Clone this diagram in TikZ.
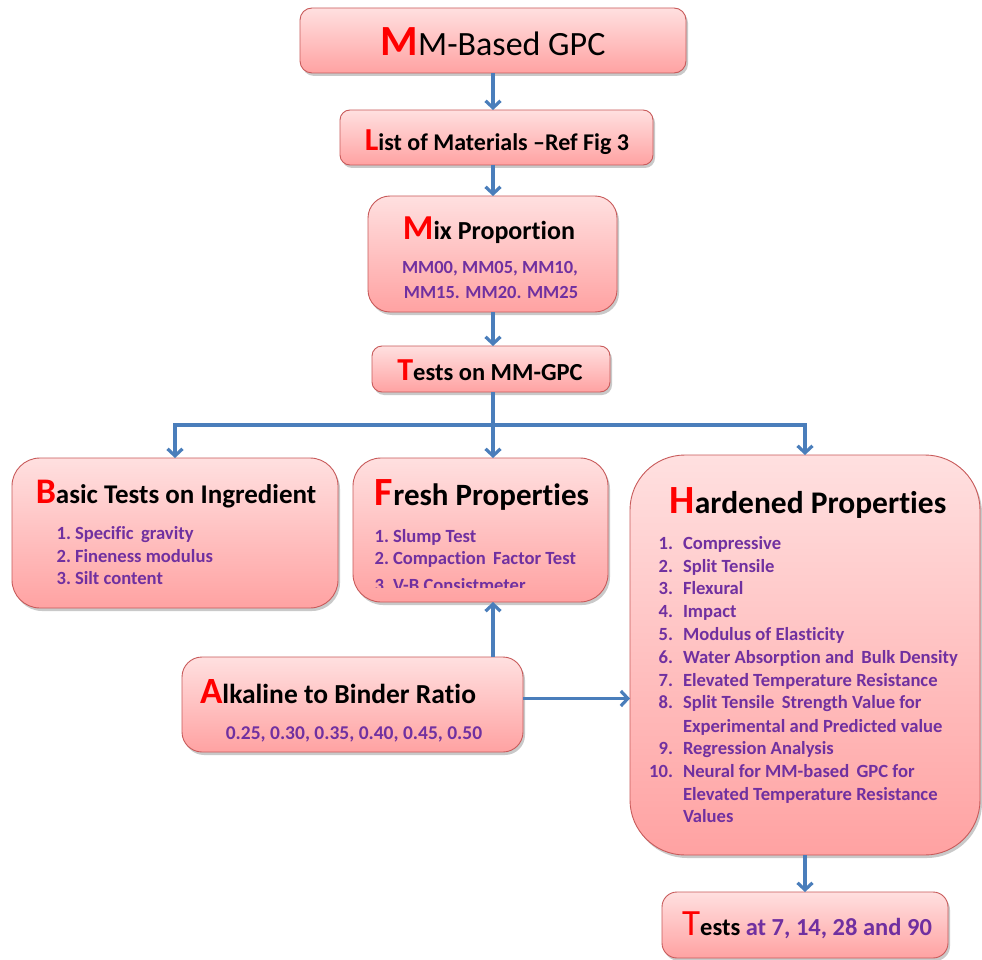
\documentclass[tikz,border=0pt]{standalone}
\usepackage{fontspec}
\setmainfont[RawFeature={-liga;-clig;-dlig;-calt}]{Carlito}
\usetikzlibrary{arrows.meta,shadows}
\definecolor{arrowblue}{RGB}{74,126,187}
\definecolor{boxborder}{RGB}{200,90,90}
\definecolor{boxtop}{RGB}{255,224,224}
\definecolor{boxbot}{RGB}{255,162,162}
\definecolor{itemcol}{RGB}{112,48,160}
\definecolor{redletter}{RGB}{255,0,0}
\newcommand{\fs}[1]{\fontsize{#1}{#1}\selectfont}
\newcommand{\rl}[2]{{\color{redletter}\fs{#1}\bfseries #2}}
\begin{document}
\begin{tikzpicture}[x=1pt,y=-1pt,
  box/.style={draw=boxborder, line width=0.9pt, top color=boxtop, bottom color=boxbot,
    inner sep=0pt, outer sep=0pt,
    drop shadow={opacity=0.35, shadow xshift=2pt, shadow yshift=-3pt, fill=black!60}},
  arr/.style={draw=arrowblue, line width=3.2pt, -{Straight Barb[length=7pt,width=15pt]}},
  ln/.style={draw=arrowblue, line width=3.2pt},
  txt/.style={inner sep=0pt, outer sep=0pt, anchor=base},
  item/.style={inner sep=0pt, outer sep=0pt, anchor=base west, text=itemcol, font=\fs{18.6}\bfseries},
  num/.style={inner sep=0pt, outer sep=0pt, anchor=base east, text=itemcol, font=\fs{18.6}\bfseries}]
\useasboundingbox (0,0) rectangle (982,960);
\fill[white] (0,0) rectangle (982,960);

% boxes
\node[box, rounded corners=12pt, minimum width=386pt, minimum height=65pt] (mm) at (493,40.5) {};
\node[box, rounded corners=10pt, minimum width=313pt, minimum height=55pt] (list) at (496.5,137.5) {};
\node[box, rounded corners=22pt, minimum width=249pt, minimum height=116pt] (mix) at (492.5,254) {};
\node[box, rounded corners=10pt, minimum width=238pt, minimum height=46pt] (tests) at (491,369) {};
\node[box, rounded corners=28pt, minimum width=326pt, minimum height=150pt] (basic) at (175,533) {};
\node[box, rounded corners=28pt, minimum width=255pt, minimum height=144pt] (fresh) at (480.5,530) {};
\node[box, rounded corners=55pt, minimum width=350pt, minimum height=400pt] (hard) at (805,655) {};
\node[box, rounded corners=20pt, minimum width=341pt, minimum height=95pt] (alk) at (352.5,704.5) {};
\node[box, rounded corners=15pt, minimum width=286pt, minimum height=66pt] (tat) at (805,925) {};

% texts
\node[txt] (t1) at (493,56) {\rl{43}{M}\fs{34}M-Based GPC};
\node[txt] (t2) at (497,151) {\rl{32}{L}\fs{24}\bfseries ist of Materials –Ref Fig 3};
\node[txt] (t3) at (489,239) {\rl{35}{M}\fs{26}\bfseries ix Propor\kern0pt tion};
\node[txt, text=itemcol, font=\fs{18.5}\bfseries] (t3a) at (490,273) {MM00, MM05, MM10,};
\node[txt, text=itemcol, font=\fs{18.5}\bfseries] (t3b) at (491,298) {MM15. MM20. MM25};
\node[txt] (t4) at (490,380) {\rl{32}{T}\fs{24.5}\bfseries ests on MM-GPC};

\node[txt] (t5) at (176,503) {\rl{36}{B}\fs{27}\bfseries asic Tests on Ingredient};
\node[num] (b1n) at (71,539) {1.};\node[item] (b1) at (75,539) {Specific\, gravity};
\node[num] (b2n) at (71,562) {2.};\node[item] (b2) at (75,562) {Fineness modulus};
\node[num] (b3n) at (71,584) {3.};\node[item] (b3) at (75,584) {Silt content};

\node[txt] (t6) at (482,505) {\rl{40}{F}\fs{31}\bfseries resh Proper\kern0pt ties};
\node[num] (f1n) at (389,542) {1.};\node[item] (f1) at (393,542) {Slump Test};
\node[num] (f2n) at (389,564) {2.};\node[item] (f2) at (393,564) {Compac\kern0pt tion\, Factor Test};
\begin{scope}
\clip (353,570) rectangle (608,587);
\node[num] (f3n) at (389,591) {3.};\node[item] (f3) at (393,591) {V-B Consistmeter};
\end{scope}

\node[txt] (t7) at (808,513) {\rl{40}{H}\fs{31.5}\bfseries ardened Proper\kern0pt ties};
\node[num] (h1n) at (673,549) {1.};\node[item] (h1) at (683,549) {Compressive};
\node[num] (h2n) at (673,572) {2.};\node[item] (h2) at (683,572) {Split Tensile};
\node[num] (h3n) at (673,594) {3.};\node[item] (h3) at (683,594) {Flexural};
\node[num] (h4n) at (673,617) {4.};\node[item] (h4) at (683,617) {Impact};
\node[num] (h5n) at (673,640) {5.};\node[item] (h5) at (683,640) {Modulus of Elas\kern0pt ticity};
\node[num] (h6n) at (673,663) {6.};\node[item] (h6) at (683,663) {Water Absorp\kern0pt tion and\, Bulk Density};
\node[num] (h7n) at (673,686) {7.};\node[item] (h7) at (683,686) {Elevated Temperature Resistance};
\node[num] (h8n) at (673,708) {8.};\node[item] (h8) at (683,708) {Split Tensile\, Strength Value for};
\node[item] (h8b) at (683,732) {Experimental and Predicted value};
\node[num] (h9n) at (673,754) {9.};\node[item] (h9) at (683,754) {Regression Analysis};
\node[num] (h10n) at (673,777) {10.};\node[item] (h10) at (683,777) {Neural for MM-based\, GPC for};
\node[item] (h10b) at (683,800) {Elevated Temperature Resistance};
\node[item] (h10c) at (683,822) {Values};

\node[txt] (t8) at (338,703) {\rl{37}{A}\fs{27.5}\bfseries lkaline to Binder Ra\kern0pt tio};
\node[txt, text=itemcol, font=\fs{19.5}\bfseries] (t8a) at (354,739) {0.25, 0.30, 0.35, 0.40, 0.45, 0.50};

\node[txt] (t9) at (807,935) {{\color{redletter}\fs{37}T}\fs{24.5}\bfseries ests {\color{itemcol}at 7, 14, 28 and 90}};

% connectors
\coordinate (bus) at (493,425);
\draw[arr] (mm.south) -- (mm.south |- list.north);
\draw[arr] (mm.south |- list.south) -- (mm.south |- mix.north);
\draw[arr] (mm.south |- mix.south) -- (mm.south |- tests.north);
\draw[ln] (mm.south |- tests.south) -- (bus);
\draw[arr] (bus) -| (basic.north);
\draw[arr] (bus) -| (hard.north);
\draw[arr] (bus) -- (bus |- fresh.north);
\draw[arr] (alk.north -| bus) -- (fresh.south -| bus);
\draw[arr] ([yshift=6pt]alk.east) -- ([yshift=6pt]alk.east -| hard.west);
\draw[arr] (hard.south) -- (tat.north);
\end{tikzpicture}
\end{document}
